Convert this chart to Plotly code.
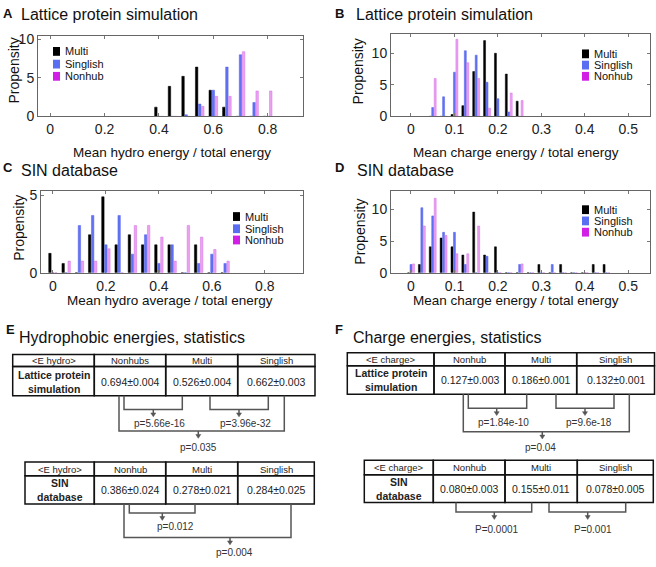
import plotly.graph_objects as go

W, H = 656, 567
FONT = "Liberation Sans, Arial, sans-serif"

series_names = ["Multi", "Singlish", "Nonhub"]
bar_colors = ["#000000", "rgb(98,114,242)", "rgb(234,162,240)"]
bar_edges = ["#000000", "rgb(80,96,235)", "rgb(214,110,228)"]
legend_colors = ["#000000", "#5a6ef2", "#d21fe6"]

# ---- histogram data (propensity per bin) ----
a_bins = [0.40, 0.45, 0.50, 0.55, 0.60, 0.65, 0.70, 0.75, 0.80]
a_multi = [1.2, 3.9, 5.2, 6.4, 3.4, 1.2, 0, 0, 0]
a_singlish = [0, 0, 0.2, 1.6, 3.4, 6.4, 8.0, 1.8, 0]
a_nonhub = [0, 0, 0, 1.3, 2.6, 2.6, 8.4, 3.3, 3.3]

b_bins = [0.05, 0.075, 0.10, 0.125, 0.15, 0.175, 0.20, 0.225, 0.25]
b_multi = [0, 0, 0.3, 1.7, 7.1, 12.0, 10.0, 6.7, 2.4]
b_singlish = [1.4, 3.1, 7.0, 10.4, 9.7, 5.4, 2.8, 0.7, 0]
b_nonhub = [6.0, 0, 12.2, 8.5, 6.0, 1.3, 0, 3.7, 2.5]

c_bins = [0, 0.05, 0.10, 0.15, 0.20, 0.25, 0.30, 0.35, 0.40, 0.45, 0.50, 0.55, 0.60, 0.65]
c_multi = [1.25, 0.6, 0, 2.45, 4.9, 1.8, 2.45, 1.8, 1.8, 1.8, 0, 1.8, 0, 0]
c_singlish = [0, 0, 3.05, 3.7, 1.8, 3.7, 1.2, 2.45, 0.6, 1.8, 0, 0.6, 1.2, 0.6]
c_nonhub = [0, 0.75, 0.75, 0.75, 1.55, 0, 3.05, 3.05, 2.3, 0.75, 3.05, 2.3, 1.5, 0.75]

d_bins = [0, 0.025, 0.05, 0.075, 0.10, 0.125, 0.15, 0.175, 0.20, 0.225,
          0.25, 0.275, 0.30, 0.325, 0.35, 0.375, 0.40, 0.425, 0.45]
d_multi = [0, 1.3, 4.1, 5.5, 4.1, 2.8, 9.6, 2.8, 4.1, 0, 0, 0, 1.3, 0, 1.3, 0, 0, 1.3, 1.3]
d_singlish = [1.3, 10.3, 9.0, 6.4, 6.4, 1.3, 0, 2.6, 0, 0, 1.3, 0, 0, 1.3, 0, 0, 0, 0, 0]
d_nonhub = [1.4, 7.4, 11.8, 5.9, 3.0, 3.0, 7.4, 0, 0, 0, 1.4, 0, 0, 0, 0, 0, 0, 0, 0]

# ---- statistics tables ----
e_top_head = ["&lt;E hydro&gt;", "Nonhubs", "Multi", "Singlish"]
e_top_row = ["<b>Lattice protein<br>simulation</b>", "0.694±0.004", "0.526±0.004", "0.662±0.003"]
e_bot_head = ["&lt;E hydro&gt;", "Nonhub", "Multi", "Singlish"]
e_bot_row = ["<b>SIN<br>database</b>", "0.386±0.024", "0.278±0.021", "0.284±0.025"]
f_top_head = ["&lt;E charge&gt;", "Nonhub", "Multi", "Singlish"]
f_top_row = ["<b>Lattice protein<br>simulation</b>", "0.127±0.003", "0.186±0.001", "0.132±0.001"]
f_bot_head = ["&lt;E charge&gt;", "Nonhub", "Multi", "Singlish"]
f_bot_row = ["<b>SIN<br>database</b>", "0.080±0.003", "0.155±0.011", "0.078±0.005"]

e_top_p = ["p=5.66e-16", "p=3.96e-32", "p=0.035"]
e_bot_p = ["p=0.012", "p=0.004"]
f_top_p = ["p=1.84e-10", "p=9.6e-18", "p=0.04"]
f_bot_p = ["P=0.0001", "P=0.001"]


def px(x):
    return x / W


def py(y):
    return 1 - y / H


fig = go.Figure()

panels = [
    (a_bins, [a_multi, a_singlish, a_nonhub], "x", "y"),
    (b_bins, [b_multi, b_singlish, b_nonhub], "x2", "y2"),
    (c_bins, [c_multi, c_singlish, c_nonhub], "x3", "y3"),
    (d_bins, [d_multi, d_singlish, d_nonhub], "x4", "y4"),
]
for bins, vals, xa, ya in panels:
    for name, v, col, edge in zip(series_names, vals, bar_colors, bar_edges):
        fig.add_trace(go.Bar(
            x=bins, y=v, name=name, xaxis=xa, yaxis=ya,
            marker=dict(color=col, line=dict(color=edge, width=0.5)),
            showlegend=False,
        ))

axis_style = dict(
    showline=True, linecolor="#666", linewidth=1, mirror="allticks",
    ticks="inside", ticklen=3, tickcolor="#777", showgrid=False, zeroline=False,
    tickfont=dict(size=14, family=FONT, color="#222"),
)

# plot boxes in pixels: (left, right, top, bottom)
boxes = {
    "1": (38, 303, 32, 114),
    "2": (391, 650, 30, 114),
    "3": (41, 303, 190, 274),
    "4": (391, 650, 190, 274),
}
xranges = {"1": [-0.045, 0.93], "2": [-0.046, 0.55], "3": [-0.045, 0.944], "4": [-0.046, 0.55]}
xticks = {"1": [0, 0.2, 0.4, 0.6, 0.8], "2": [0, 0.1, 0.2, 0.3, 0.4, 0.5],
          "3": [0, 0.2, 0.4, 0.6, 0.8], "4": [0, 0.1, 0.2, 0.3, 0.4, 0.5]}
yranges = {"1": [0, 10.4], "2": [0, 13], "3": [0, 5.3], "4": [0, 13]}
yticks = {"1": [0, 5, 10], "2": [0, 5, 10], "3": [0, 5], "4": [0, 5, 10]}

layout_axes = {}
for k, (l, r, t, b) in boxes.items():
    sfx = "" if k == "1" else k
    layout_axes["xaxis" + sfx] = dict(
        axis_style, domain=[px(l), px(r)], range=xranges[k],
        tickvals=xticks[k], ticktext=[("0" if v == 0 else f"{v:g}") for v in xticks[k]],
        anchor="y" + sfx,
    )
    layout_axes["yaxis" + sfx] = dict(
        axis_style, domain=[py(b), py(t)], range=yranges[k],
        tickvals=yticks[k], anchor="x" + sfx,
    )

fig.update_layout(**layout_axes)

shapes = []
annotations = []


def text(x, y, s, size, xanchor="center", color="#111", angle=0, yanchor="middle"):
    annotations.append(dict(
        x=px(x), y=py(y), xref="paper", yref="paper", text=s, showarrow=False,
        xanchor=xanchor, yanchor=yanchor, textangle=angle,
        font=dict(size=size, family=FONT, color=color),
    ))


# panel letters and titles
for letter, lx, ly, title, tx, ty in [
    ("A", 1, 9, "Lattice protein simulation", 19, 10),
    ("B", 333, 9, "Lattice protein simulation", 354, 10),
    ("C", 1, 166, "SIN database", 19, 169),
    ("D", 333, 166, "SIN database", 355, 169),
    ("E", 4, 332, "Hydrophobic energies, statistics", 17, 340),
    ("F", 333, 332, "Charge energies, statistics", 351, 340),
]:
    text(lx, ly, f"<b>{letter}</b>", 13, xanchor="left")
    text(tx, ty, title, 16, xanchor="left")

# axis titles
for x, y in [(14, 67), (358, 68), (19, 228), (360, 232)]:
    text(x, y, "Propensity", 14, angle=-90)
text(172, 151, "Mean hydro energy / total energy", 13.5)
text(516, 151, "Mean charge energy / total energy", 13.5)
text(170, 302, "Mean hydro average / total energy", 13.5)
text(516, 302, "Mean charge energy / total energy", 13.5)

# legends (swatch + label)
for lx, rows in [(53, [47.5, 60.5, 73]), (582, [50, 61.5, 73]),
                 (233, [216.5, 229, 240.5]), (582, [209.5, 221, 232.5])]:
    for name, col, ry in zip(series_names, legend_colors, rows):
        shapes.append(dict(type="rect", xref="paper", yref="paper",
                           x0=px(lx), x1=px(lx + 7), y0=py(ry - 4.5), y1=py(ry + 4.5),
                           fillcolor=col, line=dict(width=0)))
        text(lx + 10, ry, name, 11, xanchor="left")


def table(cols, top, mid, bot, head, row):
    for i in range(4):
        for y0, y1, cell, size in [(top, mid, head[i], 9.5), (mid, bot, row[i], 10.5)]:
            shapes.append(dict(type="rect", xref="paper", yref="paper",
                               x0=px(cols[i]), x1=px(cols[i + 1]), y0=py(y1), y1=py(y0),
                               line=dict(color="#111", width=1.5)))
            text((cols[i] + cols[i + 1]) / 2, (y0 + y1) / 2 + 0.5, cell, size, color="#222")


def bracket(xl, xr, y0, y1, xa, label, lx, ly):
    shapes.append(dict(type="path", xref="paper", yref="paper",
                       path=f"M {px(xl)},{py(y0)} L {px(xl)},{py(y1)} L {px(xr)},{py(y1)} L {px(xr)},{py(y0)}",
                       line=dict(color="#555", width=1.5)))
    shapes.append(dict(type="line", xref="paper", yref="paper",
                       x0=px(xa), x1=px(xa), y0=py(y1), y1=py(y1 + 4),
                       line=dict(color="#555", width=1.5)))
    shapes.append(dict(type="path", xref="paper", yref="paper",
                       path=f"M {px(xa - 2.5)},{py(y1 + 3.5)} L {px(xa + 2.5)},{py(y1 + 3.5)} L {px(xa)},{py(y1 + 7.5)} Z",
                       fillcolor="#555", line=dict(color="#555", width=0.5)))
    text(lx, ly, label, 10, color="#333")


table([12.7, 94.3, 165.7, 237.7, 315], 357.7, 370, 400, e_top_head, e_top_row)
table([25, 94.3, 165.7, 237.7, 314.3], 467.7, 481.7, 510.7, e_bot_head, e_bot_row)
table([347.3, 434, 505, 576.7, 654.5], 356, 369.3, 398.3, f_top_head, f_top_row)
table([364.3, 433.3, 505, 577.3, 653.3], 466, 480.7, 509.3, f_bot_head, f_bot_row)

bracket(124, 182.3, 400, 414, 153.3, e_top_p[0], 159, 428)
bracket(210, 268.3, 400, 414, 239, e_top_p[1], 245, 428)
bracket(119, 284.3, 400, 436, 198.3, e_top_p[2], 198, 453)
bracket(129.3, 195, 510.7, 520, 162.3, e_bot_p[0], 175.7, 534)
bracket(124, 291, 510.7, 545, 230, e_bot_p[1], 234, 560)
bracket(468.3, 526.7, 398.3, 412.7, 496.7, f_top_p[0], 503, 427)
bracket(556, 614, 398.3, 412.7, 585, f_top_p[1], 589, 427)
bracket(463.3, 629.3, 398.3, 436.7, 542.3, f_top_p[2], 540.7, 453)
bracket(456, 531.7, 509.3, 519, 494.3, f_bot_p[0], 496.7, 537)
bracket(549, 625.7, 509.3, 519, 587.7, f_bot_p[1], 593.3, 537)

fig.update_layout(
    width=W, height=H,
    margin=dict(l=0, r=0, t=0, b=0),
    paper_bgcolor="white", plot_bgcolor="white",
    barmode="group", bargap=0.32, bargroupgap=0.2,
    showlegend=False,
    shapes=shapes, annotations=annotations,
    font=dict(family=FONT),
)

# drop the browser's default body margin so the figure sits at the window origin
fig.write_html("out.html", config={"displayModeBar": False},
               post_script="document.body.style.margin = '0';")
